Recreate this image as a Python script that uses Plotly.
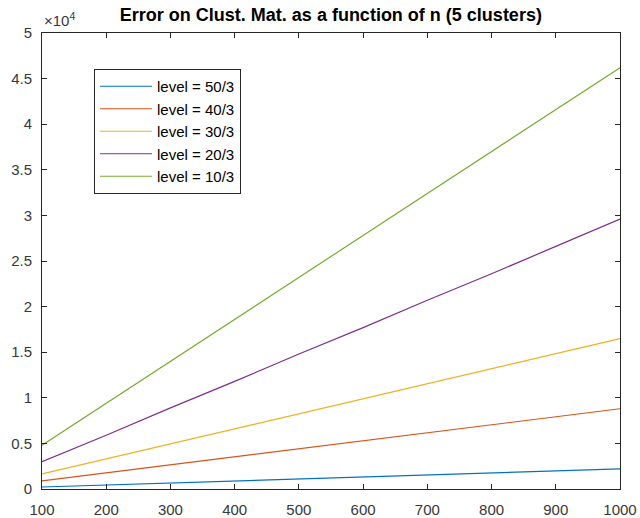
import plotly.graph_objects as go

# Problem size n
n_values = [100, 200, 300, 400, 500, 600, 700, 800, 900, 1000]

# Error on the clustering matrix for each noise level
err_50_3 = [220, 440, 660, 880, 1100, 1320, 1540, 1760, 1980, 2200]
err_40_3 = [880, 1760, 2650, 3500, 4400, 5300, 6200, 7050, 7950, 8800]
err_30_3 = [1650, 3300, 5000, 6600, 8300, 9900, 11600, 13200, 14900, 16500]
err_20_3 = [3000, 5900, 8900, 11800, 14800, 17700, 20700, 23600, 26600, 29600]
err_10_3 = [4800, 9400, 14000, 18600, 23200, 27800, 32400, 37000, 41600, 46200]

series_names = ["level = 50/3", "level = 40/3", "level = 30/3", "level = 20/3", "level = 10/3"]
series_values = [err_50_3, err_40_3, err_30_3, err_20_3, err_10_3]
series_colors = ["#0072BD", "#D95319", "#EDB120", "#7E2F8E", "#77AC30"]

y_tick_vals = [0, 5000, 10000, 15000, 20000, 25000, 30000, 35000, 40000, 45000, 50000]
y_tick_text = ["0", "0.5", "1", "1.5", "2", "2.5", "3", "3.5", "4", "4.5", "5"]
x_tick_vals = [100, 200, 300, 400, 500, 600, 700, 800, 900, 1000]

fig = go.Figure()
for name, vals, col in zip(series_names, series_values, series_colors):
    fig.add_trace(go.Scatter(x=n_values, y=vals, mode="lines", name=name,
                             line=dict(color=col, width=1.2)))

font_family = "Liberation Sans, Arial, sans-serif"
axis_font = dict(family=font_family, size=15, color="#383838")

fig.update_layout(
    width=640, height=518,
    margin=dict(l=42, r=20, t=33, b=29),
    paper_bgcolor="white", plot_bgcolor="white",
    title=dict(text="<b>Error on Clust. Mat. as a function of n (5 clusters)</b>",
               x=0.517, xanchor="center", y=0.971, yanchor="middle",
               font=dict(family=font_family, size=18, color="black")),
    xaxis=dict(range=[100, 1000], tickvals=x_tick_vals, ticks="inside", ticklen=5,
               tickcolor="#262626", showline=True, linecolor="#262626", linewidth=1,
               mirror="ticks", showgrid=False, zeroline=False, tickfont=axis_font,
               ticklabelstandoff=7, automargin=False),
    yaxis=dict(range=[0, 50000], tickvals=y_tick_vals, ticktext=y_tick_text,
               ticks="inside", ticklen=5, tickcolor="#262626", showline=True,
               linecolor="#262626", linewidth=1, mirror="ticks", showgrid=False,
               zeroline=False, tickfont=axis_font, ticklabelstandoff=6,
               automargin=False),
    legend=dict(x=0.09, y=0.921, xanchor="left", yanchor="top",
                bgcolor="white", bordercolor="#262626", borderwidth=1,
                font=dict(family=font_family, size=15, color="black"),
                tracegroupgap=0, itemwidth=52),
    showlegend=True,
)

fig.add_annotation(text="×10<sup>4</sup>", xref="paper", yref="paper", x=0.0, y=1.0,
                   xanchor="left", yanchor="bottom", showarrow=False, yshift=2,
                   font=dict(family=font_family, size=15, color="#383838"))

fig.write_html("out.html")
